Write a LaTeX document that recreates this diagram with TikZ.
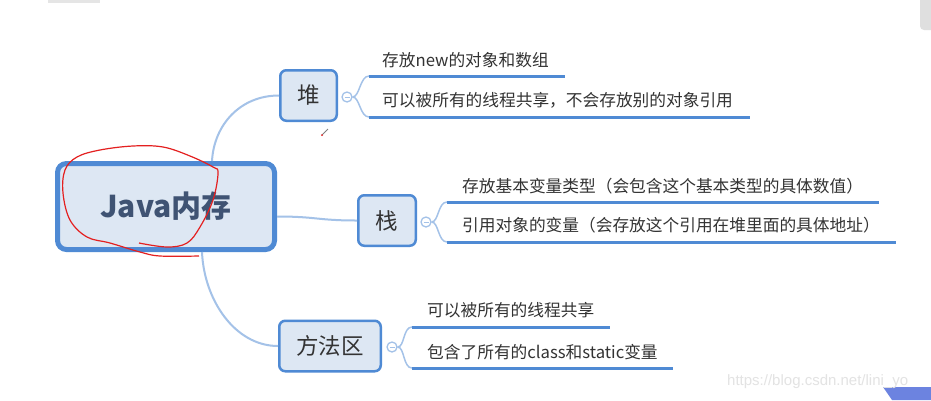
\documentclass[tikz,border=0pt]{standalone}
\usepackage{fontspec}
\setmainfont{Noto Sans CJK SC}
\newfontfamily\markfont{Liberation Sans}
\usepackage{tikz}
\usetikzlibrary{arrows.meta,positioning,calc}
\definecolor{MapBlue}{RGB}{79,138,212}
\definecolor{MapFill}{RGB}{221,231,243}
\definecolor{MapLight}{RGB}{164,194,232}
\definecolor{MapText}{RGB}{51,51,51}
\definecolor{MapTitle}{RGB}{63,83,115}
\definecolor{InkRed}{RGB}{228,32,32}
\definecolor{CornerBlue}{RGB}{108,131,224}
\tikzset{
  rootbox/.style={draw=MapBlue,fill=MapFill,line width=5pt,rounded corners=9pt,minimum width=217pt,minimum height=86pt,font=\fontsize{30}{34}\selectfont\bfseries,text=MapTitle},
  topicbox/.style={draw=MapBlue,fill=MapFill,line width=2.5pt,rounded corners=6pt,minimum height=50.5pt,font=\fontsize{22.5}{25}\selectfont,text=MapText},
  leaf/.style={anchor=west,inner sep=0pt,font=\fontsize{16.7}{19}\selectfont,text=MapText},
  knob/.style={circle,draw=MapLight,fill=white,line width=1.3pt,minimum size=10pt,inner sep=0pt,
    path picture={\draw[MapLight,line width=1pt] ([xshift=-2.5pt]path picture bounding box.center)--([xshift=2.5pt]path picture bounding box.center);}},
  branch/.style={MapLight,line width=2pt},
  twig/.style={MapLight,line width=1.5pt},
  uline/.style={MapBlue,line width=3pt},
}

\begin{document}
\begin{tikzpicture}[x=1pt,y=-1pt]
    \fill[white] (0,0) rectangle (931,400);
    \useasboundingbox (0,0) rectangle (931,400);
    \fill[gray!20] (48,0) rectangle (100,3);
    \fill[gray!25,rounded corners=4pt] (920,-5) rectangle (936,30);

    \node[rootbox] (root) at (166,206.5) {Java内存};
    \node[topicbox,minimum width=56.5pt]  (heap)   at (308.5,95.5) {堆};
    \node[topicbox,minimum width=57.5pt]  (stack)  at (387,220.5)  {栈};
    \node[topicbox,minimum width=101.5pt] (method) at (330,346)    {方法区};

    \draw[branch] ([xshift=46pt]root.north) .. controls +(2,-36) and +(-39,0) .. (heap.west);
    \draw[branch] ([yshift=-10pt]root.east) .. controls +(40,0) and +(-40,0) .. (stack.west);
    \draw[branch] ([xshift=36pt]root.south) .. controls +(2,48) and +(-43,0) .. (method.west);

    % heap
    \node[knob] (kheap) at (347,97) {};
    \node[leaf] (heap1) at (382,60)  {存放new的对象和数组};
    \node[leaf] (heap2) at (382,100.5) {可以被所有的线程共享，不会存放别的对象引用};
    \coordinate (heap1s) at (369,76);  \coordinate (heap1e) at (565,76);
    \coordinate (heap2s) at (369,117); \coordinate (heap2e) at (750,117);
    \draw[twig] (kheap.east) .. controls +(7,0) and +(-9,0) .. (heap1s);
    \draw[twig] (kheap.east) .. controls +(7,0) and +(-9,0) .. (heap2s);
    \draw[uline] (heap1s) -- (heap1e);
    \draw[uline] (heap2s) -- (heap2e);

    % stack
    \node[knob] (kstack) at (426,222) {};
    \node[leaf] (stack1) at (462,186) {存放基本变量类型（会包含这个基本类型的具体数值）};
    \node[leaf] (stack2) at (462,225) {引用对象的变量（会存放这个引用在堆里面的具体地址）};
    \coordinate (stack1s) at (447,202); \coordinate (stack1e) at (879,202);
    \coordinate (stack2s) at (447,242); \coordinate (stack2e) at (896,242);
    \draw[twig] (kstack.east) .. controls +(7,0) and +(-9,0) .. (stack1s);
    \draw[twig] (kstack.east) .. controls +(7,0) and +(-9,0) .. (stack2s);
    \draw[uline] (stack1s) -- (stack1e);
    \draw[uline] (stack2s) -- (stack2e);

    % method area
    \node[knob] (kmethod) at (392,347) {};
    \node[leaf] (method1) at (427,310) {可以被所有的线程共享};
    \node[leaf] (method2) at (427,352) {包含了所有的class和static变量};
    \coordinate (method1s) at (412,327); \coordinate (method1e) at (610,327);
    \coordinate (method2s) at (412,368); \coordinate (method2e) at (673,368);
    \draw[twig] (kmethod.east) .. controls +(7,0) and +(-9,0) .. (method1s);
    \draw[twig] (kmethod.east) .. controls +(7,0) and +(-9,0) .. (method2s);
    \draw[uline] (method1s) -- (method1e);
    \draw[uline] (method2s) -- (method2e);

    % pen marks
    \draw[InkRed,line width=1.2pt] plot[smooth,tension=0.6] coordinates {
      (139,243) (167,247) (187,243) (200,227) (213,200) (218,173) (213,167) (190,156)
      (163,147) (133,146) (100,150) (77,157) (65,170) (63,193) (70,220) (87,237)
      (110,243) (140,252) (160,256) (199,256)};
    \draw[gray,line width=0.8pt] (328,129) -- (322,135);
    \fill[InkRed] (322,135) circle (1pt);

    \fill[CornerBlue] (883,387) -- (931,387) -- (931,400) -- (892,400) -- cycle;
    \node[anchor=west,inner sep=0pt,font=\markfont\fontsize{15}{16}\selectfont,text=gray!22] (mark) at (727,382) {https://blog.csdn.net/lini\_yo};
\end{tikzpicture}
\end{document}
